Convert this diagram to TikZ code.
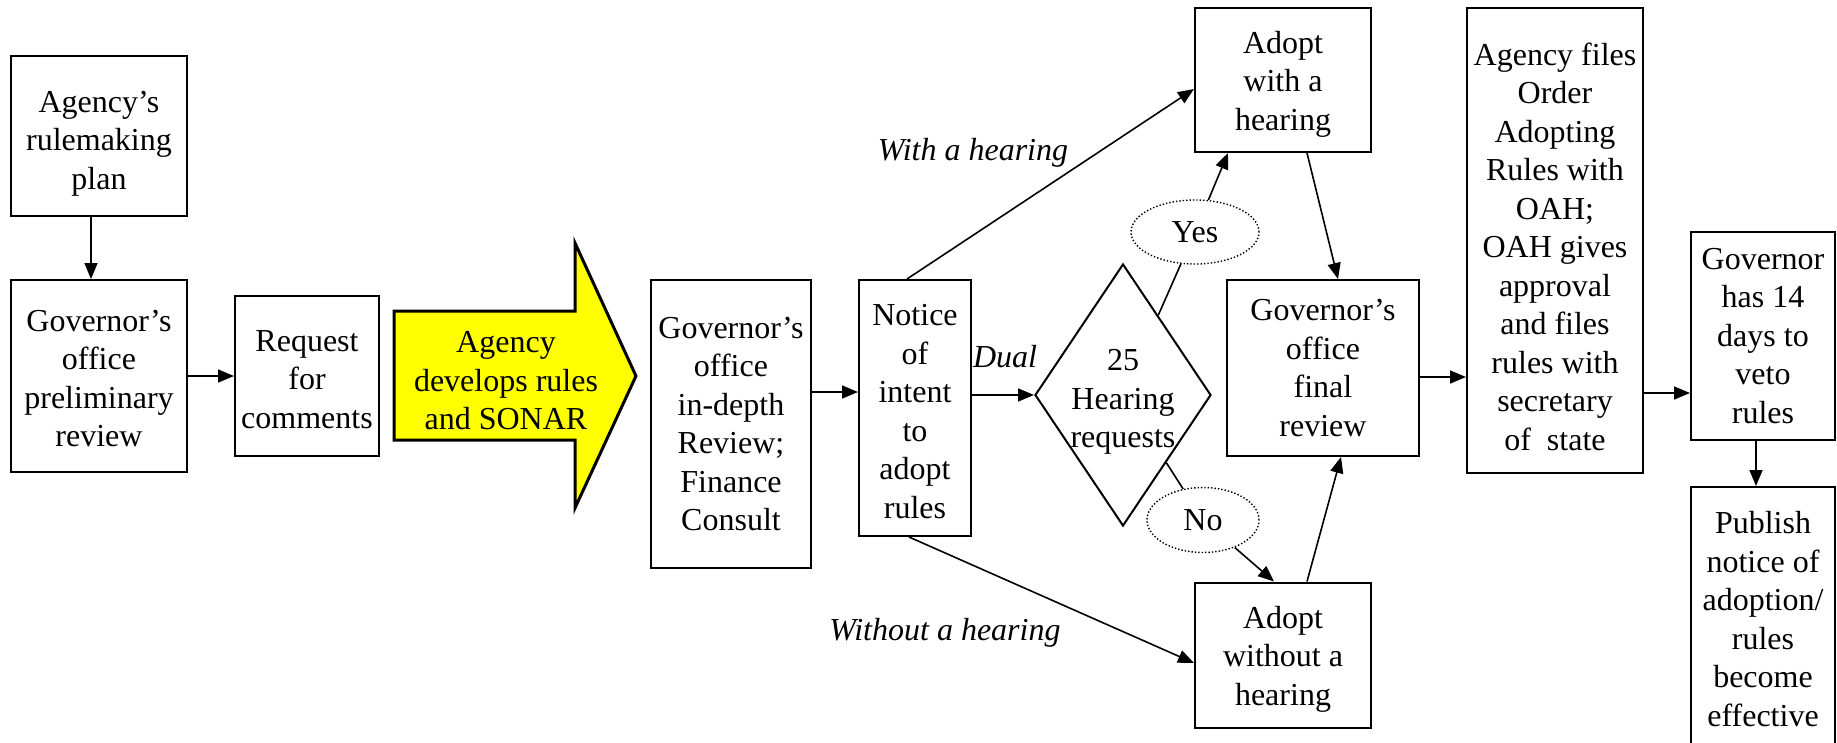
\documentclass[tikz,border=0pt]{standalone}
\usepackage{fontspec}
\setmainfont{Liberation Serif}
\usepackage{xcolor}
\usetikzlibrary{arrows.meta,shapes.geometric}
\definecolor{sonaryellow}{RGB}{255,255,0}
\newcommand{\toppad}[1]{\rule{0pt}{#1}}
\tikzset{
  stage/.style={draw, line width=2pt, align=center, inner sep=0pt},
  flow/.style={-{Triangle[length=16pt,width=13pt]}, line width=1.6pt},
  link/.style={line width=1.6pt},
  choice/.style={draw, dotted, ellipse, line width=1.4pt, inner sep=0pt},
  decision/.style={draw, diamond, line width=2pt, inner sep=0pt},
  route/.style={font=\fontsize{32}{38.5}\selectfont\itshape, anchor=base}
}

\begin{document}
\begin{tikzpicture}[x=1pt, y=-1pt, font=\fontsize{32}{38.5}\selectfont]
                \useasboundingbox (0,0) rectangle (1837,742);
                \clip (0,0) rectangle (1837,742);
                % left part
                \node[stage, minimum width=176pt, minimum height=160pt] (plan) at (99,136) {\toppad{36pt}Agency’s\\rulemaking\\plan};
                \node[stage, minimum width=176pt, minimum height=192pt] (prelim) at (99,376) {\toppad{26pt}Governor’s\\office\\preliminary\\review};
                \node[stage, minimum width=144pt, minimum height=160pt] (request) at (307,376) {\toppad{28pt}Request\\for\\comments};
                \filldraw[fill=sonaryellow, line width=3pt] (394,311) -- (575,311) -- (575,243) -- (636,376) -- (575,508) -- (575,440) -- (394,440) -- cycle;
                \node[align=center] (develop) at (506,381) {Agency\\develops rules\\and SONAR};
                \node[stage, minimum width=160pt, minimum height=288pt] (indepth) at (731,424) {Governor’s\\office\\in-depth\\Review;\\Finance\\Consult};
                \node[stage, minimum width=112pt, minimum height=256pt] (notice) at (915,408) {\toppad{28pt}Notice\\of\\intent\\to\\adopt\\rules};
                % hearing decision
                \node[decision, minimum width=176pt, minimum height=262pt, label={[align=center, yshift=-7pt]center:{25\\Hearing\\requests}}] (hear) at (1123,395) {};
                \node[choice, minimum width=128pt, minimum height=64pt] (yes) at (1195,232) {Yes};
                \node[choice, minimum width=112pt, minimum height=65pt] (no) at (1203,520) {No};
                \node[stage, minimum width=176pt, minimum height=144pt] (withhear) at (1283,80) {\toppad{30pt}Adopt\\with a\\hearing};
                \node[stage, minimum width=176pt, minimum height=145pt] (withouthear) at (1283,655) {\toppad{30pt}Adopt\\without a\\hearing};
                \node[stage, minimum width=192pt, minimum height=176pt] (final) at (1323,368) {Governor’s\\office\\final\\review};
                % right part
                \node[stage, minimum width=176pt, minimum height=465pt] (files) at (1555,240) {\toppad{36pt}Agency files\\Order\\Adopting\\Rules with\\OAH;\\OAH gives\\approval\\and files\\rules with\\secretary\\of~~state};
                \node[stage, minimum width=144pt, minimum height=208pt] (veto) at (1763,336) {Governor\\has 14\\days to\\veto\\rules};
                \node[stage, minimum width=144pt, minimum height=264pt] (publish) at (1763,619) {Publish\\notice of\\adoption/\\rules\\become\\effective};
                % route labels
                \node[route] (withlbl) at (973,160) {With a hearing};
                \node[route] (duallbl) at (1005,367) {Dual};
                \node[route] (withoutlbl) at (945,640) {Without a hearing};
                % connectors
                \draw[flow] ([xshift=-8pt]plan.south) -- ([xshift=-8pt]prelim.north);
                \draw[flow] (prelim) -- (request);
                \draw[flow] ([yshift=32pt]indepth.east) -- ([yshift=16pt]notice.west);
                \draw[flow] (notice.east |- hear.west) -- (hear.west);
                \draw[flow] ([xshift=-8pt]notice.north) -- ([yshift=-9pt]withhear.west);
                \draw[flow] ([xshift=-6pt]notice.south) -- ([yshift=-8pt]withouthear.west);
                \draw[link] (hear) -- (yes);
                \draw[flow] (yes) -- ([xshift=-55pt]withhear.south);
                \draw[link] (hear) -- (no);
                \draw[flow] (no) -- ([xshift=-9pt]withouthear.north);
                \draw[flow] ([xshift=24pt]withhear.south) -- ([xshift=15pt]final.north);
                \draw[flow] ([xshift=24pt]withouthear.north) -- ([xshift=18pt]final.south);
                \draw[flow] ([yshift=-9pt]final.east) -- ([yshift=-9pt]final.east -| files.west);
                \draw[flow] ([yshift=-57pt]veto.west -| files.east) -- ([yshift=-57pt]veto.west);
                \draw[flow] ([xshift=-7pt]veto.south) -- ([xshift=-7pt]publish.north);
            \end{tikzpicture}
\end{document}
